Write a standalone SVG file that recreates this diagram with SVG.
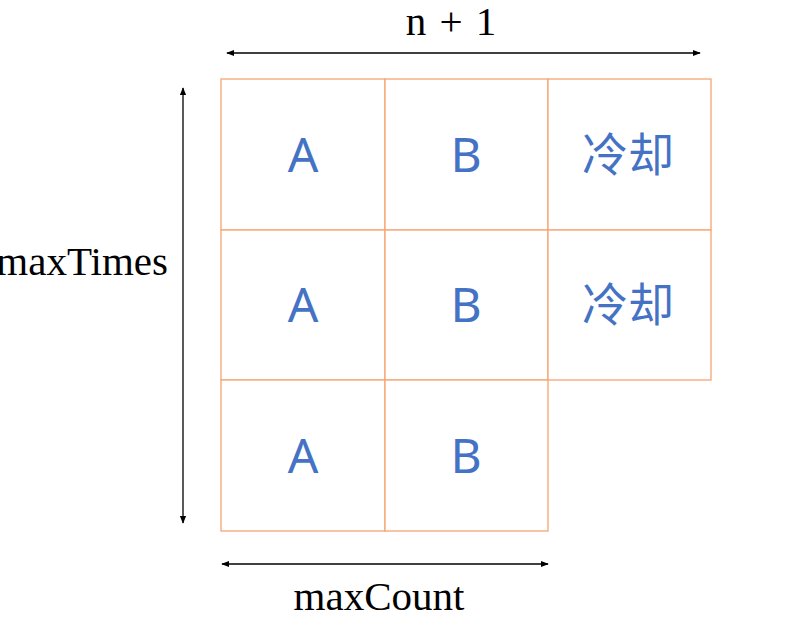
<svg xmlns="http://www.w3.org/2000/svg" width="799" height="629" viewBox="0 0 799 629">
<style>
.cell{fill:#fff;stroke:#F4A572;stroke-width:1.3}
.lbl{font-family:"Noto Sans","Noto Sans CJK SC",sans-serif;font-size:48px;fill:#4472C4;text-anchor:middle}
.cn{font-size:46px}
.dim{font-family:"Liberation Serif",serif;font-size:41px;fill:#000}
.ar{stroke:#000;stroke-width:1.3;fill:none;marker-start:url(#ah);marker-end:url(#ah)}
</style>
<defs>
<marker id="ah" viewBox="0 0 10 10" refX="9" refY="5" markerWidth="8" markerHeight="8" markerUnits="userSpaceOnUse" orient="auto-start-reverse">
<path d="M0,1 L10,5 L0,9 Z" fill="#000"/>
</marker>
</defs>
<rect width="799" height="629" fill="#fff"/>
<g id="r1c1"><rect class="cell" x="221" y="79" width="164" height="151"/><text class="lbl" x="303" y="172">A</text></g>
<g id="r1c2"><rect class="cell" x="385" y="79" width="163" height="151"/><text class="lbl" x="466" y="172">B</text></g>
<g id="r1c3"><rect class="cell" x="548" y="79" width="163" height="151"/><text class="lbl cn" x="628" y="171">冷却</text></g>
<g id="r2c1"><rect class="cell" x="221" y="230" width="164" height="150"/><text class="lbl" x="303" y="322">A</text></g>
<g id="r2c2"><rect class="cell" x="385" y="230" width="163" height="150"/><text class="lbl" x="466" y="322">B</text></g>
<g id="r2c3"><rect class="cell" x="548" y="230" width="163" height="150"/><text class="lbl cn" x="628" y="321">冷却</text></g>
<g id="r3c1"><rect class="cell" x="221" y="380" width="164" height="151"/><text class="lbl" x="303" y="473">A</text></g>
<g id="r3c2"><rect class="cell" x="385" y="380" width="163" height="151"/><text class="lbl" x="466" y="473">B</text></g>
<g id="connectors">
<line class="ar" x1="227" y1="53" x2="700" y2="53"/>
<line class="ar" x1="183" y1="88" x2="183" y2="523"/>
<line class="ar" x1="222" y1="564" x2="548" y2="564"/>
</g>
<g id="labels">
<text class="dim" x="451" y="35" text-anchor="middle" word-spacing="3">n + 1</text>
<text class="dim" x="168" y="275" text-anchor="end">maxTimes</text>
<text class="dim" x="379" y="610" text-anchor="middle">maxCount</text>
</g>
</svg>
